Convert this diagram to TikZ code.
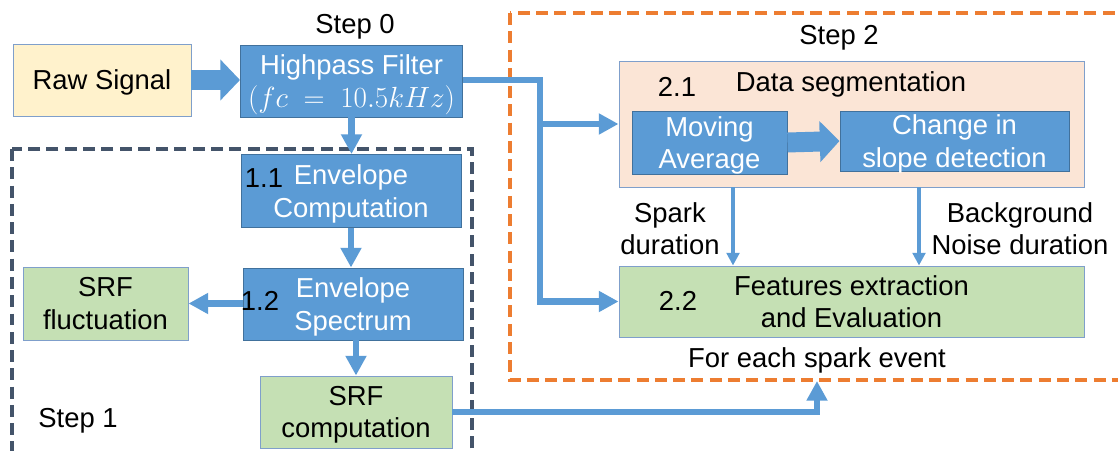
\documentclass[tikz,border=0pt]{standalone}
\usepackage{fontspec}
\setmainfont{Liberation Sans}
\usetikzlibrary{arrows.meta,calc}
\definecolor{boxblue}{HTML}{5B9BD5}
\definecolor{edgeblue}{HTML}{41719C}
\definecolor{paleedge}{HTML}{7F9FCB}
\definecolor{cream}{HTML}{FFF2CC}
\definecolor{mint}{HTML}{C5E0B4}
\definecolor{peach}{HTML}{FBE5D6}
\definecolor{flame}{HTML}{ED7D31}
\definecolor{slate}{HTML}{44546A}
\begin{document}
\begin{tikzpicture}[x=0.025cm,y=-0.025cm,
  font=\fontsize{19.5}{23}\selectfont,
  sz/.style 2 args={minimum width=#1*0.025cm, minimum height=#2*0.025cm},
  boxbase/.style={line width=0.7pt, align=center, inner sep=0pt, text depth=0pt},
  bluebox/.style={boxbase, draw=edgeblue, fill=boxblue, text=white},
  creambox/.style={boxbase, draw=paleedge, fill=cream},
  mintbox/.style={boxbase, draw=paleedge, fill=mint},
  peachbox/.style={boxbase, draw=paleedge, fill=peach},
  caption/.style={align=center, inner sep=0pt},
  conn/.style={draw=boxblue, line width=4.6pt, line join=miter,
    -{Triangle[length=14pt,width=14.2pt]}},
  thinconn/.style={draw=boxblue, line width=2.8pt,
    -{Triangle[length=9pt,width=9pt]}},
  blockarrow/.style={draw=boxblue, line width=14.2pt,
    -{Triangle[length=14pt,width=28.4pt]}},
  stepframe/.style={line width=2.8pt, dash pattern=on 8.5pt off 4.5pt},
]
\useasboundingbox (0,0) rectangle (1118,451);
\clip (0,0) rectangle (1118,451);

% stage frames
\draw[stepframe, draw=slate] (12,149) rectangle (472,480);
\draw[stepframe, draw=flame] (510,13) rectangle (1140,380);

% step 0
\node[creambox, sz={178}{72}] (raw) at (102,80) {Raw Signal};
\node[bluebox, sz={222}{72}] (hp) at (351.5,81) {Highpass Filter\\$(fc\ =\ 10.5kHz)$};
\node[caption] (s0) at (355,27) {Step 0};

% step 1
\node[bluebox, sz={220}{73}] (e11) at (351,191) {Envelope\\Computation};
\node[caption] (n11) at (264,178) {1.1};
\node[bluebox, sz={220}{72}] (e12) at (353,304) {Envelope\\Spectrum};
\node[caption] (n12) at (260,301) {1.2};
\node[mintbox, sz={165}{73}] (fluc) at (105.5,303.5) {SRF\\fluctuation};
\node[mintbox, sz={192}{72}] (srfc) at (356,412) {SRF\\computation};
\node[caption] (s1) at (78,421) {Step 1};

% step 2
\node[caption] (s2) at (839,38) {Step 2};
\node[peachbox, sz={465}{126}] (seg) at (851.5,124) {};
\node[caption] (n21) at (677,87) {2.1};
\node[caption] (segt) at (851,84) {Data segmentation};
\node[bluebox, sz={155}{63}] (ma) at (709.5,142.5) {Moving\\Average};
\node[bluebox, sz={229}{60}] (cs) at (954.5,141) {Change in\\slope detection};
\node[mintbox, sz={465}{71}] (feat) at (851.5,301.5) {Features extraction\\and Evaluation};
\node[caption] (n22) at (678,301) {2.2};
\node[caption] (spk) at (670,229) {Spark\\duration};
\node[caption] (bgn) at (1020,229) {Background\\Noise duration};
\node[caption] (each) at (817,360) {For each spark event};

% connectors
\draw[blockarrow] (raw.east) -- (hp.west |- raw.east);
\draw[blockarrow] (ma.east) -- (cs.west);

\coordinate (bend) at (540,80);
\draw[conn] (hp.east |- bend) -- (bend) |- (feat.west);
\draw[conn] (bend |- seg.west) -- (seg.west);
\draw[conn] (hp.south) -- (e11.north -| hp.south);
\draw[conn] (e11.south) -- (e12.north -| e11.south);
\draw[conn] (e12.west |- fluc.east) -- (fluc.east);
\draw[conn] (e12.south -| srfc.north) -- (srfc.north);
\coordinate (s2in) at (817,381);
\draw[conn] (srfc.east) -| (s2in);

\coordinate (spx) at (733,0);
\coordinate (bgx) at (919,0);
\draw[thinconn] (seg.south -| spx) -- (feat.north -| spx);
\draw[thinconn] (seg.south -| bgx) -- (feat.north -| bgx);
\end{tikzpicture}
\end{document}
